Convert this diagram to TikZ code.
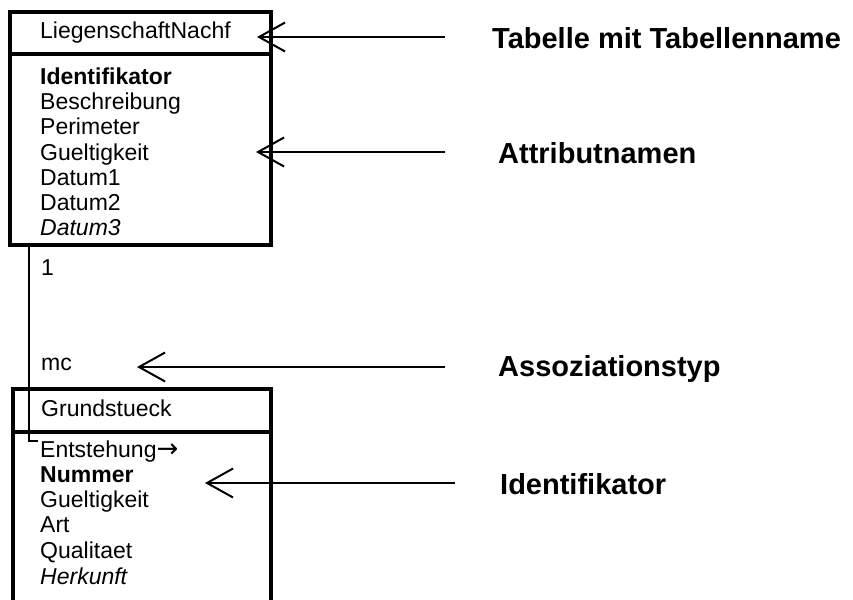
\documentclass[tikz,border=0pt]{standalone}
\usepackage{fontspec}
\setmainfont{Liberation Sans}
\newfontfamily\arrowfont{DejaVu Sans}
\usetikzlibrary{arrows.meta}
\begin{document}
\begin{tikzpicture}[x=1pt,y=-1pt,
  tablebox/.style={draw, line width=4pt, inner sep=0pt, outer sep=0pt, anchor=north west},
  divider/.style={line width=4pt},
  attr/.style={anchor=base west, inner sep=0pt, font=\fontsize{23}{25}\selectfont},
  lbl/.style={anchor=base west, inner sep=0pt, font=\fontsize{29}{32}\selectfont\bfseries},
  ptr/.style={line width=2pt, -{Straight Barb[length=26pt,width=29pt]}},
  conn/.style={line width=1.6pt}]
\useasboundingbox (0,0) rectangle (853,599);

% top table
\node[tablebox, minimum width=261pt, minimum height=233pt] (tab1) at (10,12) {};
\draw[divider] (10,54) -- (271,54);
\node[attr] (t1name) at (40,39) {LiegenschaftNachf};
\node[attr] (t1a1) at (40,85) {\bfseries Identifikator};
\node[attr] (t1a2) at (40,110) {Beschreibung};
\node[attr] (t1a3) at (40,135) {Perimeter};
\node[attr] (t1a4) at (40,160) {Gueltigkeit};
\node[attr] (t1a5) at (40,185) {Datum1};
\node[attr] (t1a6) at (40,210) {Datum2};
\node[attr] (t1a7) at (40,235) {\itshape Datum3};

% bottom table
\node[tablebox, minimum width=258pt, minimum height=230pt] (tab2) at (13,389) {};
\draw[divider] (13,432) -- (271,432);
\node[attr] (t2name) at (41,416) {Grundstueck};
\node[attr] (t2a1) at (40,457) {Entstehung{\arrowfont\fontsize{26}{26}\selectfont →}};
\node[attr] (t2a2) at (40,482) {\bfseries Nummer};
\node[attr] (t2a3) at (40,507) {Gueltigkeit};
\node[attr] (t2a4) at (40,532) {Art};
\node[attr] (t2a5) at (40,558) {Qualitaet};
\node[attr] (t2a6) at (40,584) {\itshape Herkunft};

% association
\node[attr] (card1) at (41,275) {1};
\node[attr] (card2) at (41,370) {mc};
\coordinate (cstart) at (29,245);
\coordinate (cend) at (38,441);
\draw[conn] (cstart) |- (cend);

% explanation labels
\node[lbl] (l1) at (492,49) {Tabelle mit Tabellenname};
\node[lbl] (l2) at (498,163) {Attributnamen};
\node[lbl] (l3) at (498,376) {Assoziationstyp};
\node[lbl] (l4) at (500,494) {Identifikator};

\coordinate (p1s) at (445,37);  \coordinate (p1e) at (257,37);
\coordinate (p2s) at (445,152); \coordinate (p2e) at (256,152);
\coordinate (p3s) at (445,367); \coordinate (p3e) at (137,367);
\coordinate (p4s) at (455,483); \coordinate (p4e) at (205,483);
\draw[ptr] (p1s) -- (p1e);
\draw[ptr] (p2s) -- (p2e);
\draw[ptr] (p3s) -- (p3e);
\draw[ptr] (p4s) -- (p4e);
\end{tikzpicture}
\end{document}
